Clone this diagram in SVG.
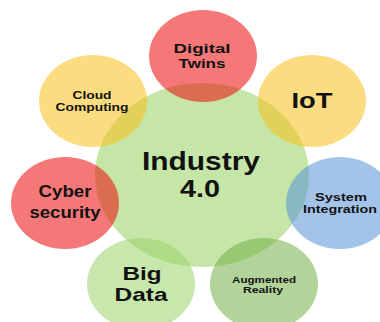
<svg xmlns="http://www.w3.org/2000/svg" width="380" height="322" viewBox="0 0 380 322">
<style>
.sat{fill-opacity:0.55}
text{font-family:"Liberation Sans",Arial,sans-serif;font-weight:bold;fill:#111;text-anchor:middle}
</style>
<rect width="380" height="322" fill="#ffffff"/>
<g id="industry40">
<ellipse cx="202" cy="175" rx="107" ry="92" fill="#c6e6a7"/>
<text x="201" y="170" font-size="25" textLength="118" lengthAdjust="spacingAndGlyphs">Industry</text>
<text x="200" y="197" font-size="24" textLength="40" lengthAdjust="spacingAndGlyphs">4.0</text>
</g>
<g id="connectors"></g>
<g id="digital-twins">
<ellipse class="sat" cx="203" cy="56" rx="54" ry="46" fill="#eb0909"/>
<text x="202" y="52.5" font-size="13" textLength="57" lengthAdjust="spacingAndGlyphs">Digital</text>
<text x="202" y="67.5" font-size="13" textLength="47" lengthAdjust="spacingAndGlyphs">Twins</text>
</g>
<g id="cloud-computing">
<ellipse class="sat" cx="93" cy="101" rx="54" ry="46" fill="#f9bf18"/>
<text x="92" y="98.5" font-size="11.5" textLength="39" lengthAdjust="spacingAndGlyphs">Cloud</text>
<text x="92" y="110.5" font-size="11.5" textLength="73" lengthAdjust="spacingAndGlyphs">Computing</text>
</g>
<g id="iot">
<ellipse class="sat" cx="312" cy="101" rx="54" ry="46" fill="#f9bf18"/>
<text x="312" y="108" font-size="22" textLength="41" lengthAdjust="spacingAndGlyphs">IoT</text>
</g>
<g id="cyber-security">
<ellipse class="sat" cx="65" cy="203" rx="54" ry="46" fill="#eb0909"/>
<text x="65" y="197" font-size="17" textLength="53" lengthAdjust="spacingAndGlyphs">Cyber</text>
<text x="65" y="218" font-size="17" textLength="71" lengthAdjust="spacingAndGlyphs">security</text>
</g>
<g id="system-integration">
<ellipse class="sat" cx="340" cy="203" rx="54" ry="46" fill="#5793d5"/>
<text x="341" y="200.5" font-size="11.5" textLength="52" lengthAdjust="spacingAndGlyphs">System</text>
<text x="340" y="212.5" font-size="11.5" textLength="74" lengthAdjust="spacingAndGlyphs">Integration</text>
</g>
<g id="big-data">
<ellipse class="sat" cx="141" cy="284" rx="54" ry="46" fill="#9bd368"/>
<text x="142" y="279.5" font-size="19" textLength="39" lengthAdjust="spacingAndGlyphs">Big</text>
<text x="141" y="300.5" font-size="19" textLength="53" lengthAdjust="spacingAndGlyphs">Data</text>
</g>
<g id="augmented-reality">
<ellipse class="sat" cx="264" cy="284" rx="54" ry="46" fill="#73b047"/>
<text x="264" y="282.5" font-size="9.5" textLength="64" lengthAdjust="spacingAndGlyphs">Augmented</text>
<text x="263" y="292.5" font-size="9.5" textLength="40" lengthAdjust="spacingAndGlyphs">Reality</text>
</g>
</svg>
